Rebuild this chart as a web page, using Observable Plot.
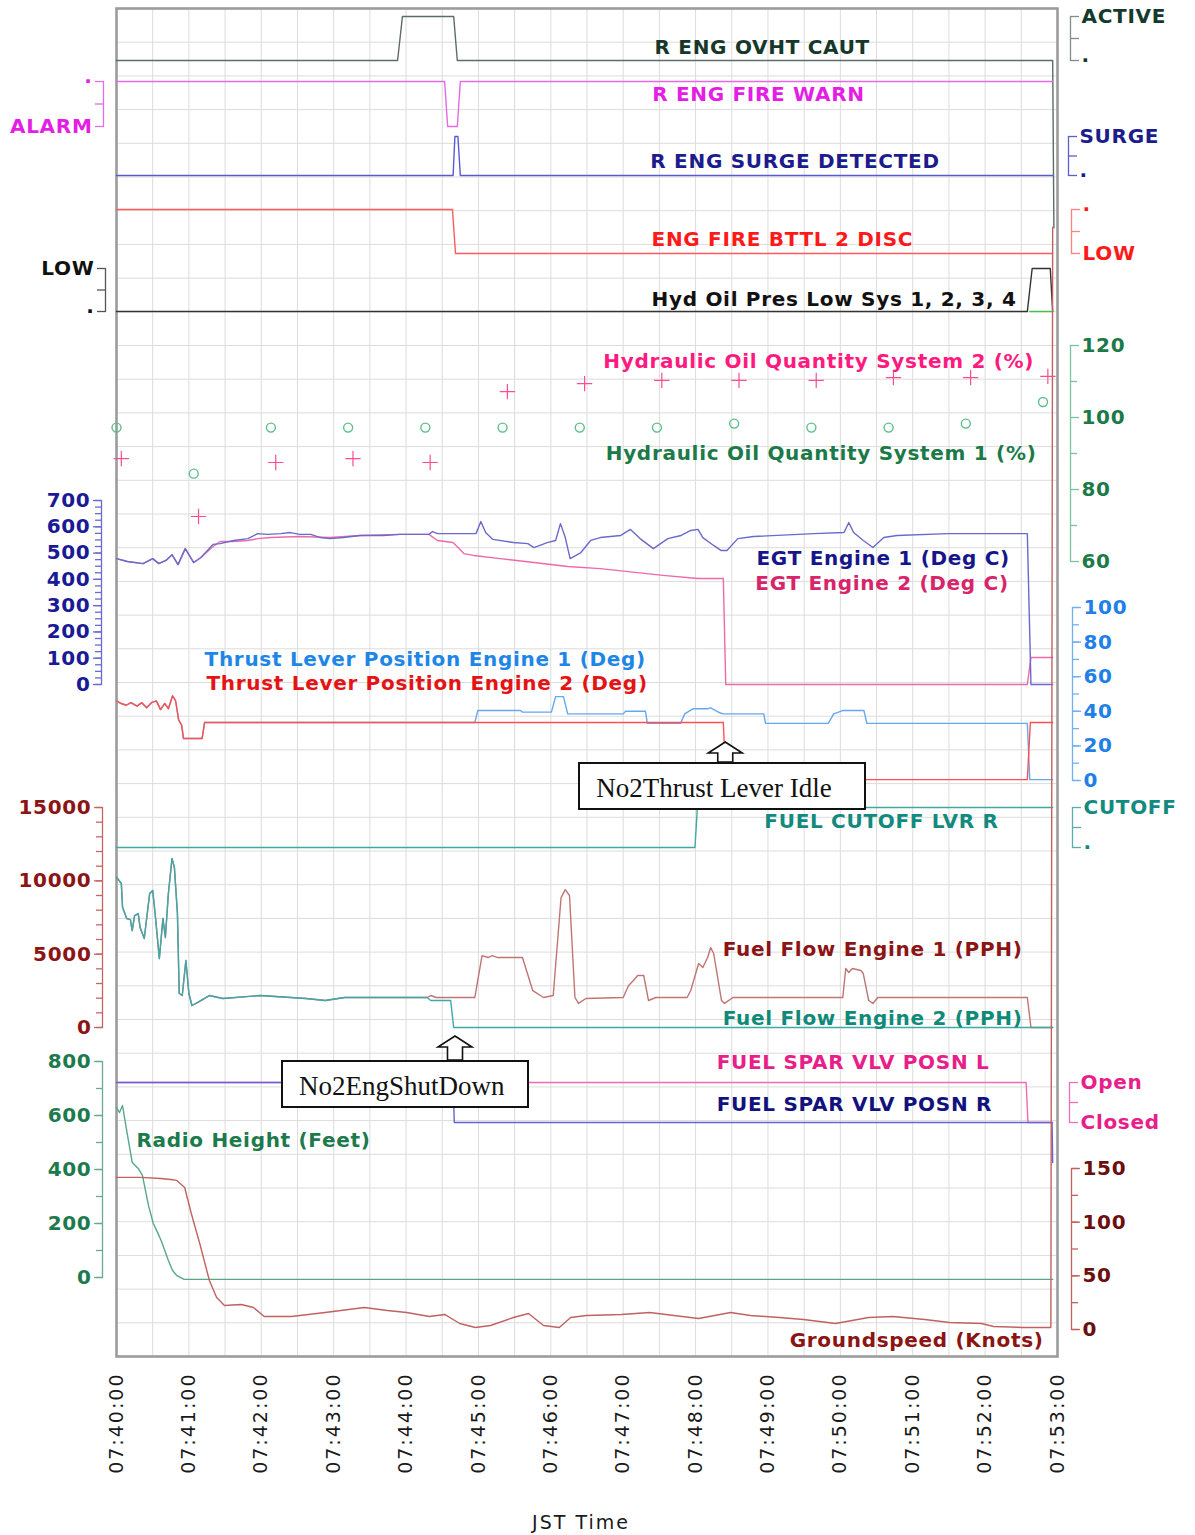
<!DOCTYPE html>
<html><head><meta charset="utf-8">
<script src="https://cdn.jsdelivr.net/npm/d3@7"></script>
<script src="https://cdn.jsdelivr.net/npm/@observablehq/plot@0.6"></script>
<style>
body{margin:0;background:#fff;}
#wrap{position:relative;width:1195px;height:1535px;overflow:hidden;background:#fff;}
#wrap > svg{position:absolute;left:0;top:0;}
.ov text{letter-spacing:0.7px;}
.base text{letter-spacing:2px;}
.box{position:absolute;box-sizing:border-box;border:2px solid #111;background:#fff;font-family:"Liberation Serif",serif;font-size:27px;color:#111;padding-left:16px;line-height:48px;white-space:nowrap;}
</style></head><body><div id="wrap"></div>
<script>
// ---------- data (time = seconds after 07:40:00 JST, value) ----------
const ovhtCaut   = [[0,0],[233,0],[237,1],[279.5,1],[282.5,0],[776,0],[777,-3.8]];
const fireWarn   = [[0,0],[272,0],[274.5,1],[282.5,1],[285,0],[776,0]];
const surgeDet   = [[0,0],[279,0],[280.5,1],[283,1],[285,0],[776,0]];
const bottleDisc = [[0,1],[278.5,1],[281,0],[776,0]];
const hydPresLow = [[0,0],[755,0],[759,1],[774,1],[776,0]];
const hydPresLowB= [[757,0],[776,0]];
const hydQtySys1 = [[0,97.2],[64,84.4],[128,97.2],[192,97.2],[256,97.2],[320,97.2],[384,97.2],[448,97.2],[512,98.3],[576,97.2],[640,97.2],[704,98.3],[768,104.3]];
const hydQtySys2 = [[4,88.6],[68,72.5],[132,87.5],[196,88.6],[260,87.5],[324,107.2],[388,109.4],[452,110.3],[516,110.3],[580,110.3],[644,111.1],[708,111.1],[772,111.4]];
const egt1 = [[0,479],[9,468],[22,460],[30,479],[35,460],[41,472],[46,494],[51,456],[57,517],[64,464],[70,483],[80,533],[86,536],[97,548],[109,555],[117,574],[125,571],[136,574],[144,578],[152,571],[161,571],[169,559],[177,555],[188,559],[202,567],[221,567],[235,571],[259,571],[262,582],[266,574],[298,574],[302,620],[306,578],[312,552],[329,540],[341,536],[346,521],[357,540],[364,548],[368,612],[372,559],[376,479],[385,502],[393,548],[401,559],[418,567],[426,590],[434,555],[445,517],[457,555],[468,567],[476,586],[482,590],[486,559],[495,529],[501,510],[506,510],[515,555],[528,563],[578,574],[603,578],[607,616],[611,578],[619,548],[627,521],[636,559],[647,567],[689,574],[755,574],[758,0],[776,0]];
const egt2 = [[0,479],[9,468],[22,460],[30,479],[35,460],[41,472],[46,494],[51,456],[57,517],[64,464],[70,483],[80,525],[86,544],[97,544],[109,548],[117,555],[128,559],[152,563],[177,559],[202,567],[235,571],[259,571],[266,548],[279,540],[288,498],[296,491],[318,479],[346,464],[374,449],[401,441],[453,415],[482,403],[503,403],[505,0],[755,0],[758,103],[776,103]];
const tlp1 = [[0,46],[4,44.5],[8,43.5],[12,45],[17,43],[21,45],[25,42],[29,45],[33,46],[36.5,41],[40,44.5],[43,41.5],[46.5,49],[49,46],[51.5,35],[54,32],[55.5,24.3],[71,24.3],[73,33.5],[297,33.5],[299.5,40.5],[335,40.5],[336.5,39.5],[360.5,39.5],[364,48.5],[370.5,48.5],[374,38.5],[420,38.5],[422,40],[438.5,40],[440,33],[467.5,33],[471,38.5],[478,41.5],[490,41.5],[492.5,42],[500.5,39],[503,38.5],[536.5,38.5],[538,33],[590,33],[594.5,38.5],[602.5,40.5],[619.5,40.5],[622,33],[755,33],[757,0.5],[776,0.5]];
const tlp2 = [[0,46],[4,44.5],[8,43.5],[12,45],[17,43],[21,45],[25,42],[29,45],[33,46],[36.5,41],[40,44.5],[43,41.5],[46.5,49],[49,46],[51.5,35],[54,32],[55.5,24.3],[71,24.3],[73,33.5],[503,33.5],[505,0.5],[755,0.5],[757.5,33.5],[776,33.5]];
const cutoffLvr = [[0,0],[479.5,0],[481.5,1],[776,1]];
const fuelFlow1 = [[0,10250],[4,9816],[5,8200],[8.5,7430],[11.5,7360],[13,6610],[15,7635],[18,7770],[19.5,6840],[23,6070],[27.5,9135],[30,9340],[32,7770],[35.5,4700],[38.5,7430],[40.5,6135],[43,9135],[46,11520],[48,10900],[50.5,7770],[52,2320],[54.5,2180],[57.5,4570],[60,2320],[62.5,1500],[67,1700],[77,2180],[88,1980],[119,2180],[157,1980],[173,1840],[189,2045],[221,2045],[257.5,2045],[260.5,2180],[265,2045],[297,2045],[303,4900],[308,4770],[311.5,4900],[316,4770],[336.5,4770],[345,2520],[354,2045],[362,2180],[368.5,8860],[372,9400],[375.5,9000],[380,2045],[383,1640],[389,1980],[420,2045],[424.5,2860],[428.5,3200],[432,3545],[437,3545],[441,1840],[447,2045],[473,2045],[476,2520],[482.5,4360],[486,4090],[490,4770],[492.5,5450],[495,5045],[501.5,1840],[504,1640],[511,2045],[602,2045],[604.5,4020],[607,3750],[610,4020],[617,3890],[619,3680],[623.5,1840],[627,1640],[631,2045],[755,2045],[758,0],[776,0]];
const fuelFlow2 = [[0,10250],[4,9816],[5,8200],[8.5,7430],[11.5,7360],[13,6610],[15,7635],[18,7770],[19.5,6840],[23,6070],[27.5,9135],[30,9340],[32,7770],[35.5,4700],[38.5,7430],[40.5,6135],[43,9135],[46,11520],[48,10900],[50.5,7770],[52,2320],[54.5,2180],[57.5,4570],[60,2320],[62.5,1500],[67,1700],[77,2180],[88,1980],[119,2180],[157,1980],[173,1840],[189,2045],[221,2045],[257.5,2045],[260.5,1840],[277,1840],[279.5,0],[776,0]];
const sparVlvL = [[0,1],[754,1],[755.5,0],[776,0]];
const sparVlvR = [[0,1],[279,1],[280,0],[775.5,0],[776,-1]];
const radioHeight = [[0,630],[2.5,611],[5,637],[8,556],[13,426],[18,404],[21.5,378],[26.5,267],[30.5,200],[34,167],[37,137],[43,63],[46.5,26],[50,7],[56,-7],[776,-7]];
const groundSpeed = [[0,141.7],[20,141.7],[36.5,140.7],[45,139.8],[50,138.9],[56.5,132.3],[62,108.1],[69,80.1],[77,45.7],[83,29.8],[89.5,22.4],[103.5,23.3],[113.5,20.5],[122.5,12.1],[145,12.1],[173,15.8],[205.5,20.5],[224.5,17.7],[240.5,15.8],[259.5,12.1],[272,14],[284.5,5.6],[297.5,1.9],[310,3.7],[329,11.2],[341.5,14.9],[354,3.7],[367,1.9],[376.5,11.2],[389.5,13],[418.5,14],[442,15.8],[462,13],[482.5,10.3],[509,15.8],[525.5,13],[549.5,11.2],[569.5,9.3],[596,5.6],[623.5,11.2],[643.5,12.1],[670,9.3],[690.5,6.5],[717,5.6],[727,2.8],[751,1.9],[774.5,1.9],[776,1027]];
const timeTicks = d3.range(0, 781, 60);
const gridTicks = d3.range(0, 781, 30);

// ---------- setup ----------
const W = 1195, H = 1535;
const sec = s => new Date(Date.UTC(2000, 0, 1, 7, 40, 0) + s * 1000);
const X = {type: "utc", domain: [sec(0), sec(780)], range: [116, 1057], axis: null};
const FONT = "DejaVu Sans, Verdana, sans-serif";
const wrap = document.getElementById("wrap");

const line = (data, stroke, w = 1.4) => Plot.line(data, {x: d => sec(d[0]), y: d => d[1], stroke, strokeWidth: w});
const label = (text, s, v, fill) => Plot.text([text], {x: () => sec(s), y: () => v, text: d => d, fill, textAnchor: "start", fontSize: 20, fontWeight: "bold"});
const states = m => d => (m[d] ?? "");

function panel({top, bottom, side, at, domain, reverse = false, ticks, minor = [], fmt = d => String(d), axisText, axisLine, marks}) {
  const svg = Plot.plot({
    width: W, height: H,
    marginTop: top, marginBottom: H - bottom,
    marginLeft: side === "left" ? at : 0,
    marginRight: side === "right" ? W - at : 0,
    style: {background: "transparent", fontFamily: FONT, overflow: "visible"},
    x: X,
    y: {domain, reverse, axis: null},
    marks: [
      Plot.frame({anchor: side, stroke: axisLine, strokeWidth: 1.3}),
      Plot.axisY(minor, {anchor: side, tickSize: 6, tickFormat: () => "", stroke: axisLine, strokeWidth: 1.3, label: null}),
      Plot.axisY(ticks, {anchor: side, tickSize: 8, tickPadding: 3, tickFormat: fmt, stroke: axisLine, strokeWidth: 1.3, fill: axisText, fontSize: 20, fontWeight: "bold", label: null}),
      ...marks
    ]
  });
  svg.classList.add("ov");
  wrap.appendChild(svg);
  return svg;
}

// ---------- base: grid, frame, time axis ----------
const base = Plot.plot({
  width: W, height: H,
  marginTop: 8, marginBottom: 179, marginLeft: 116, marginRight: 138,
  style: {background: "#fff", fontFamily: FONT, color: "#1a1a1a"},
  x: {type: "utc", domain: [sec(0), sec(780)], axis: null},
  y: {domain: [0, 40], axis: null},
  marks: [
    Plot.gridX(gridTicks.map(sec), {stroke: "#dcdcdc", strokeOpacity: 1}),
    Plot.gridY(d3.range(41), {stroke: "#dcdcdc", strokeOpacity: 1}),
    Plot.frame({stroke: "#9c9c9c", strokeWidth: 2.6}),
    Plot.axisX(timeTicks.map(sec), {anchor: "bottom", tickFormat: d3.utcFormat("%H:%M:%S"), tickRotate: -90, tickSize: 0, tickPadding: 16, fontSize: 19, fill: "#1a1a1a", label: null}),
    Plot.text(["JST Time"], {frameAnchor: "bottom", text: d => d, dy: 172, dx: -6, fontSize: 19, fill: "#1a1a1a"})
  ]
});
base.classList.add("base");
wrap.appendChild(base);

// ---------- panels ----------
panel({top: 16, bottom: 60, side: "right", at: 1070, domain: [0, 1], ticks: [0, 0.5, 1], fmt: states({0: "·", 1: "ACTIVE"}),
  axisText: "#143a2c", axisLine: "#7f8e8a",
  marks: [line(ovhtCaut, "#5c6d69"), label("R ENG OVHT CAUT", 446, 0.3, "#16372a")]});

panel({top: 81, bottom: 126, side: "left", at: 103, domain: [0, 1], reverse: true, ticks: [0, 0.5, 1], fmt: states({0: "·", 1: "ALARM"}),
  axisText: "#e41ee4", axisLine: "#e070e0",
  marks: [line(fireWarn, "#e46ae4"), label("R ENG FIRE WARN", 444, 0.29, "#e41ee4")]});

panel({top: 136, bottom: 175, side: "right", at: 1068, domain: [0, 1], ticks: [0, 0.5, 1], fmt: states({0: "·", 1: "SURGE"}),
  axisText: "#1c1c8c", axisLine: "#5c5cd0",
  marks: [line(surgeDet, "#5a5ad2"), label("R ENG SURGE DETECTED", 442.5, 0.36, "#1c1c8c")]});

panel({top: 209, bottom: 253, side: "right", at: 1071, domain: [0, 1], ticks: [0, 0.5, 1], fmt: states({0: "LOW", 1: "·"}),
  axisText: "#ff1a1a", axisLine: "#ff8080",
  marks: [line(bottleDisc, "#ff5a5a"), label("ENG FIRE BTTL 2 DISC", 443.5, 0.32, "#ff1a1a")]});

panel({top: 268, bottom: 311, side: "left", at: 105, domain: [0, 1], ticks: [0, 0.5, 1], fmt: states({0: "·", 1: "LOW"}),
  axisText: "#111", axisLine: "#555",
  marks: [line(hydPresLow, "#333"), line(hydPresLowB, "#4cc04c"), label("Hyd Oil Pres Low Sys 1, 2, 3, 4", 443.5, 0.28, "#111")]});

panel({top: 345, bottom: 561, side: "right", at: 1070, domain: [60, 120], ticks: [60, 80, 100, 120], minor: [70, 90, 110],
  axisText: "#1b7a47", axisLine: "#7cc4a0",
  marks: [
    Plot.dot(hydQtySys1, {x: d => sec(d[0]), y: d => d[1], r: 4.5, stroke: "#5cbf8c", strokeWidth: 1.4, fill: "none"}),
    Plot.dot(hydQtySys2, {x: d => sec(d[0]), y: d => d[1], symbol: "plus", r: 5, stroke: "#ff4d94", strokeWidth: 1.2}),
    label("Hydraulic Oil Quantity System 2 (%)", 403.5, 115.6, "#ff1a80"),
    label("Hydraulic Oil Quantity System 1 (%)", 405.5, 90, "#1b7a47")
  ]});

panel({top: 500, bottom: 684, side: "left", at: 101, domain: [0, 700], ticks: d3.range(0, 701, 100), minor: d3.range(0, 701, 25),
  axisText: "#1a1a96", axisLine: "#6a6ad0",
  marks: [line(egt2, "#ec6aaa"), line(egt1, "#6a6acc"),
    label("EGT Engine 1 (Deg C)", 530.5, 479, "#16168a"), label("EGT Engine 2 (Deg C)", 529.5, 384, "#d8246a")]});

panel({top: 607, bottom: 780, side: "right", at: 1072, domain: [0, 100], ticks: d3.range(0, 101, 20), minor: d3.range(0, 101, 10),
  axisText: "#1f80e8", axisLine: "#70b0f0",
  marks: [line(tlp1, "#64a8f0"), line(tlp2, "#ff5050"),
    label("Thrust Lever Position Engine 1 (Deg)", 73, 70, "#1e86e6"), label("Thrust Lever Position Engine 2 (Deg)", 74.5, 56, "#e41414")]});

panel({top: 807, bottom: 847, side: "right", at: 1072, domain: [0, 1], ticks: [0, 0.5, 1], fmt: states({0: "·", 1: "CUTOFF"}),
  axisText: "#138a80", axisLine: "#5ab0a8",
  marks: [line(cutoffLvr, "#40a8a0"), label("FUEL CUTOFF LVR R", 537, 0.65, "#138a80")]});

panel({top: 807, bottom: 1027, side: "left", at: 102, domain: [0, 15000], ticks: [0, 5000, 10000, 15000], minor: d3.range(0, 15001, 1000),
  axisText: "#8b1414", axisLine: "#c86464",
  marks: [line(fuelFlow1, "#c07474"), line(fuelFlow2, "#3fa8a8"),
    label("Fuel Flow Engine 1 (PPH)", 502.5, 5317, "#8b1414"), label("Fuel Flow Engine 2 (PPH)", 502.5, 614, "#0f8a78")]});

panel({top: 1082, bottom: 1122, side: "right", at: 1069, domain: [0, 1], ticks: [0, 0.5, 1], fmt: states({0: "Closed", 1: "Open"}),
  axisText: "#e81e8a", axisLine: "#f070b8",
  marks: [line(sparVlvL, "#f06ab4"), line(sparVlvR, "#6464d2"),
    label("FUEL SPAR VLV POSN L", 497.5, 1.51, "#e81e8a"), label("FUEL SPAR VLV POSN R", 497.5, 0.44, "#12127e")]});

panel({top: 1061, bottom: 1277, side: "left", at: 102, domain: [0, 800], ticks: d3.range(0, 801, 200), minor: d3.range(0, 801, 100),
  axisText: "#1c7a4c", axisLine: "#6aaa8c",
  marks: [line(radioHeight, "#58a888"), label("Radio Height (Feet)", 16.5, 507, "#1c7a4c")]});

panel({top: 1168, bottom: 1329, side: "right", at: 1071, domain: [0, 150], ticks: d3.range(0, 151, 50), minor: d3.range(0, 151, 25),
  axisText: "#6b0f0f", axisLine: "#c06060",
  marks: [line(groundSpeed, "#c06262"), label("Groundspeed (Knots)", 558, -10.3, "#8b1414")]});

// ---------- annotations ----------
const xs = base.scale("x");
const events = [
  {text: "No2Thrust Lever Idle", s: 505, tip: 742, boxTop: 762, boxLeft: -147, boxWidth: 288},
  {text: "No2EngShutDown", s: 281, tip: 1036, boxTop: 1060, boxLeft: -174, boxWidth: 248}
];
const ns = "http://www.w3.org/2000/svg";
const ann = document.createElementNS(ns, "svg");
ann.setAttribute("width", W); ann.setAttribute("height", H);
for (const e of events) {
  const x = xs.apply(sec(e.s));
  const p = [[x, e.tip], [x + 17, e.tip + 11], [x + 7.5, e.tip + 11], [x + 7.5, e.boxTop], [x - 7.5, e.boxTop], [x - 7.5, e.tip + 11], [x - 17, e.tip + 11]];
  const poly = document.createElementNS(ns, "polygon");
  poly.setAttribute("points", p.map(q => q.join(",")).join(" "));
  poly.setAttribute("fill", "#fff"); poly.setAttribute("stroke", "#111"); poly.setAttribute("stroke-width", "1.6");
  ann.appendChild(poly);
}
wrap.appendChild(ann);
for (const e of events) {
  const x = xs.apply(sec(e.s));
  const div = document.createElement("div");
  div.className = "box";
  div.textContent = e.text;
  div.style.left = (x + e.boxLeft) + "px";
  div.style.top = e.boxTop + "px";
  div.style.width = e.boxWidth + "px";
  div.style.height = "48px";
  wrap.appendChild(div);
}
</script></body></html>
